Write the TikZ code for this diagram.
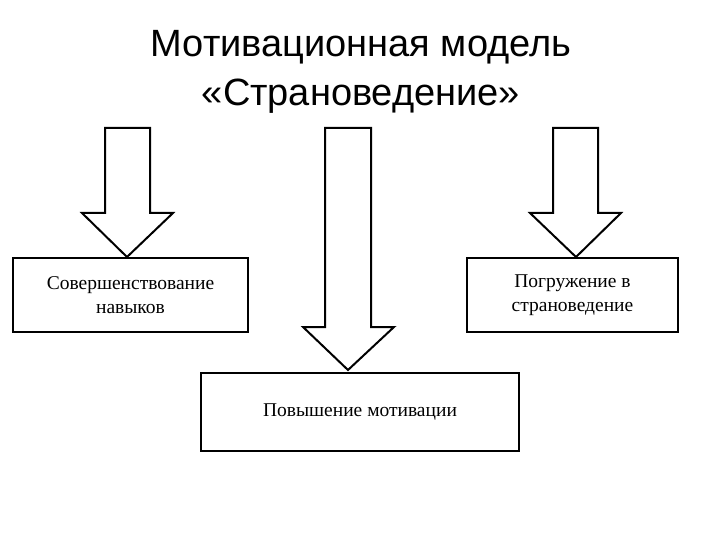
\documentclass[tikz,border=0pt]{standalone}
\usepackage{fontspec}
\setmainfont{Liberation Serif}
\newfontfamily\titlefont{Liberation Sans}
\begin{document}
\begin{tikzpicture}[x=1pt,y=-1pt,
  box/.style={draw=black,line width=2pt,fill=white,inner sep=0pt,align=center,
    font=\fontsize{19.5}{23.5}\selectfont},
  blockarrow/.style={draw=black,line width=2pt,fill=white,line join=miter},
  titletext/.style={anchor=base,inner sep=0pt,font=\titlefont\fontsize{38}{44}\selectfont}]
\useasboundingbox (0,0) rectangle (720,540);
% title
\node[titletext] (t1) at (361,57) {Мотивационная модель};
\node[titletext] (t2) at (361,106) {«Страноведение»};
% boxes
\node[box,minimum width=235pt,minimum height=74pt] (b1) at (130.5,295) {Совершенствование\\навыков};
\node[box,minimum width=211pt,minimum height=74pt] (b3) at (572.5,295) {Погружение в\\страноведение};
\node[box,minimum width=318pt,minimum height=78pt] (b2) at (360,412) {Повышение мотивации};
% block arrows
\draw[blockarrow] (105,128) -- (150,128) -- (150,213) -- (173,213) -- (127,257) -- (82,213) -- (105,213) -- cycle;
\draw[blockarrow] (325,128) -- (371,128) -- (371,327) -- (394,327) -- (348,370) -- (303,327) -- (325,327) -- cycle;
\draw[blockarrow] (553,128) -- (598,128) -- (598,213) -- (621,213) -- (576,257) -- (530,213) -- (553,213) -- cycle;
\end{tikzpicture}
\end{document}
